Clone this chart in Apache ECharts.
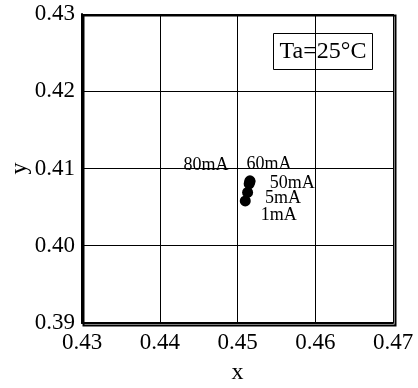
<!DOCTYPE html>
<html><head><meta charset="utf-8">
<script src="https://cdn.jsdelivr.net/npm/echarts@6/dist/echarts.min.js"></script>
<style>html,body{margin:0;padding:0;background:#fff}#c{width:418px;height:388px}</style>
</head><body><div id="c"></div>
<script>
const currents = ['1mA', '5mA', '50mA', '60mA', '80mA'];
const xValues = [0.4510, 0.4513, 0.4515, 0.4516, 0.4516];
const yValues = [0.4058, 0.4069, 0.4080, 0.4083, 0.4084];
const xTicks = [0.43, 0.44, 0.45, 0.46, 0.47];
const yTicks = [0.39, 0.40, 0.41, 0.42, 0.43];
const annotation = 'Ta=25°C';

// label shifts (layout only)
const labelShift = [[5, 14], [7, 6], [10, -1], [-14, -17], [-77, -16]];
const font = 'Liberation Serif';
const chart = echarts.init(document.getElementById('c'), null, {renderer: 'canvas'});
const data = currents.map((c, i) => ({value: [xValues[i], yValues[i]], name: c}));
chart.setOption({
  animation: false,
  grid: {left: 82, top: 14, right: 25, bottom: 65, containLabel: false, outerBoundsMode: 'none'},
  xAxis: {
    type: 'value', min: xTicks[0], max: xTicks[xTicks.length - 1], interval: 0.01,
    name: 'x', nameLocation: 'middle', nameGap: 38, nameMoveOverlap: false,
    nameTextStyle: {fontFamily: font, fontSize: 24, color: '#000'},
    axisLine: {show: true, onZero: false, lineStyle: {color: '#000', width: 2}},
    axisTick: {show: false},
    axisLabel: {fontFamily: font, fontSize: 23, color: '#000', margin: 8,
      formatter: v => v.toFixed(2)},
    splitLine: {show: true, lineStyle: {color: '#000', width: 1}}
  },
  yAxis: {
    type: 'value', min: yTicks[0], max: yTicks[yTicks.length - 1], interval: 0.01,
    name: 'y', nameLocation: 'middle', nameGap: 50, nameRotate: 90, nameMoveOverlap: false,
    nameTextStyle: {fontFamily: font, fontSize: 24, color: '#000'},
    axisLine: {show: true, onZero: false, lineStyle: {color: '#000', width: 2}},
    axisTick: {show: false},
    axisLabel: {fontFamily: font, fontSize: 23, color: '#000', margin: 7,
      formatter: v => v.toFixed(2)},
    splitLine: {show: true, lineStyle: {color: '#000', width: 1}}
  },
  series: [{
    type: 'scatter', symbol: 'circle', symbolSize: 11,
    itemStyle: {color: '#000', opacity: 1},
    label: {show: true, position: 'right', formatter: p => p.name,
      fontFamily: font, fontSize: 18, color: '#000'},
    emphasis: {disabled: true},
    labelLayout: p => ({dx: labelShift[p.dataIndex][0], dy: labelShift[p.dataIndex][1], hideOverlap: false}),
    data: data,
    z: 5
  }],
  graphic: [
    {type: 'rect', left: 81, top: 13, shape: {width: 312, height: 310},
      style: {fill: 'none', stroke: '#000', lineWidth: 2}, silent: true, z: 10},
    {type: 'group', left: 273, top: 33, z: 10, children: [
      {type: 'rect', shape: {x: 0, y: 0, width: 99, height: 36},
        style: {fill: '#fff', stroke: '#000', lineWidth: 1}},
      {type: 'text', x: 49.5, y: 18, style: {text: annotation, fontFamily: font, fontSize: 24,
        fill: '#000', align: 'center', verticalAlign: 'middle'}}
    ]}
  ]
});
</script></body></html>
